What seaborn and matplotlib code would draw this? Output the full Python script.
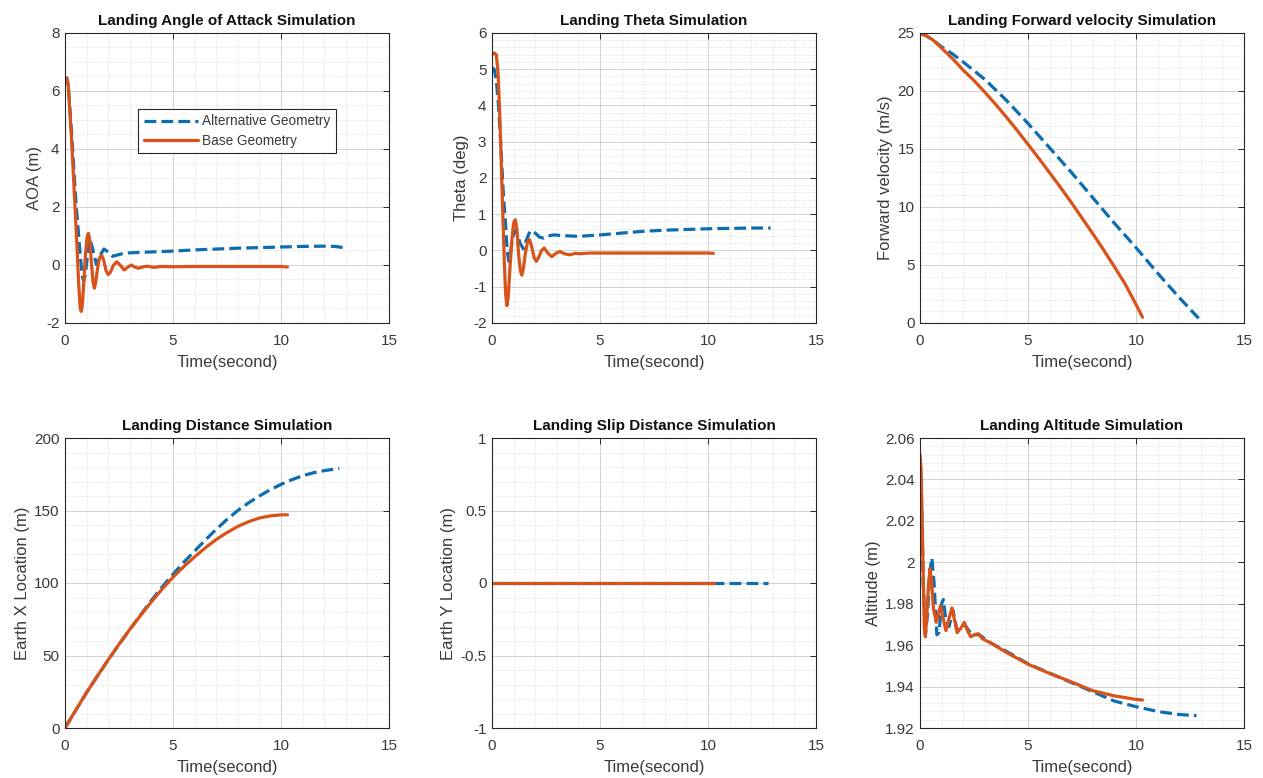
import numpy as np
import pandas as pd
import matplotlib
matplotlib.use("Agg")
import matplotlib.pyplot as plt
from matplotlib.ticker import MultipleLocator, FuncFormatter
import seaborn as sns

# ---------------- data ----------------
# Angle of attack
aoa_base_t = [0, 0.08, 0.15, 0.3, 0.45, 0.55, 0.63, 0.7, 0.75, 0.8, 0.88, 0.95, 1.02, 1.08, 1.14,
              1.22, 1.3, 1.36, 1.42, 1.52, 1.6, 1.7, 1.8, 1.9, 2.0, 2.1, 2.25, 2.4, 2.55, 2.74,
              2.9, 3.07, 3.25, 3.4, 3.6, 3.8, 4.1, 4.5, 5, 6, 7, 8, 9, 10, 10.3]
aoa_base_v = [6.3, 6.45, 6.2, 4.4, 2.2, 0.7, -0.6, -1.45, -1.6, -1.4, -0.5, 0.4, 0.95, 1.09, 0.9,
              0.1, -0.6, -0.8, -0.6, -0.05, 0.25, 0.34, 0.15, -0.2, -0.33, -0.25, 0.0, 0.11, 0.0, -0.17,
              -0.08, 0.0, -0.08, -0.11, -0.07, -0.04, -0.08, -0.05, -0.06, -0.05, -0.05, -0.05, -0.05, -0.05, -0.07]
aoa_alt_t = [0, 0.08, 0.15, 0.3, 0.45, 0.52, 0.6, 0.7, 0.8, 0.87, 0.95, 1.05, 1.15, 1.3, 1.45,
             1.6, 1.8, 2.0, 2.2, 2.6, 3.0, 4, 5, 6, 7, 8, 9, 10, 11, 12, 12.5, 12.9]
aoa_alt_v = [6.3, 6.45, 6.2, 4.6, 2.8, 2.0, 1.3, 0.4, -0.4, -0.55, -0.3, 0.4, 0.9, 0.5, 0.02,
             0.3, 0.55, 0.45, 0.3, 0.38, 0.42, 0.45, 0.48, 0.52, 0.55, 0.58, 0.6, 0.62, 0.64, 0.65, 0.64, 0.6]

# Theta
th_base_t = [0, 0.1, 0.2, 0.28, 0.35, 0.42, 0.5, 0.57, 0.63, 0.69, 0.75, 0.83, 0.92, 1.0, 1.08, 1.15,
             1.23, 1.31, 1.38, 1.45, 1.55, 1.64, 1.74, 1.84, 1.95, 2.05, 2.15, 2.3, 2.42, 2.58, 2.77,
             2.95, 3.15, 3.35, 3.6, 3.85, 4.1, 4.5, 5, 6, 7, 8, 9, 10, 10.25]
th_base_v = [5.4, 5.45, 5.4, 4.9, 3.9, 2.6, 1.0, -0.3, -1.2, -1.52, -1.3, -0.5, 0.3, 0.75, 0.85, 0.6,
             -0.1, -0.55, -0.68, -0.5, -0.05, 0.22, 0.3, 0.1, -0.2, -0.3, -0.2, 0.0, 0.07, -0.07, -0.17,
             -0.08, -0.03, -0.09, -0.12, -0.08, -0.09, -0.07, -0.07, -0.07, -0.07, -0.07, -0.07, -0.07, -0.08]
th_alt_t = [0, 0.1, 0.2, 0.3, 0.38, 0.46, 0.54, 0.62, 0.7, 0.78, 0.85, 0.95, 1.05, 1.15, 1.3, 1.45,
            1.6, 1.75, 1.85, 2.0, 2.2, 2.4, 2.6, 2.85, 3.3, 4.0, 5, 6, 7, 8, 9, 10, 11, 12, 12.9]
th_alt_v = [5.05, 5.0, 4.7, 4.0, 3.25, 2.3, 1.4, 0.8, 0.0, -0.3, -0.1, 0.35, 0.55, 0.5, 0.2, 0.05,
            0.3, 0.52, 0.55, 0.48, 0.37, 0.34, 0.4, 0.43, 0.41, 0.39, 0.43, 0.48, 0.53, 0.56, 0.58, 0.6, 0.61, 0.62, 0.62]

# Forward velocity
vel_base_t = [0, 0.3, 0.6, 1, 1.5, 2, 2.5, 3, 3.5, 4, 4.5, 5, 5.5, 6, 6.5, 7, 7.5, 8, 8.5, 9, 9.5, 10, 10.3]
vel_base_v = [25, 24.75, 24.4, 23.7, 22.8, 21.8, 20.9, 19.9, 18.85, 17.75, 16.6, 15.4, 14.2, 12.95,
              11.7, 10.4, 9.05, 7.7, 6.3, 4.85, 3.35, 1.6, 0.5]
vel_alt_t = [0, 0.3, 0.6, 1, 1.5, 2, 3, 4, 5, 6, 7, 8, 9, 10, 11, 12, 12.9]
vel_alt_v = [25, 24.75, 24.4, 23.8, 23.2, 22.5, 21.0, 19.2, 17.2, 15.1, 13.0, 10.8, 8.6, 6.5, 4.3, 2.2, 0.4]

# Distance (Earth X)
dx_base_t = [0, 0.5, 1, 1.5, 2, 2.5, 3, 3.5, 4, 4.5, 5, 5.5, 6, 6.5, 7, 7.5, 8, 8.5, 9, 9.5, 10, 10.3]
dx_base_v = [0, 12.4, 24.5, 35.9, 47, 57.8, 68, 77.7, 87, 95.8, 104, 111.3, 118, 124.3, 130, 134.8,
             139, 142.3, 144.8, 146.3, 147, 147]
dx_alt_t = [0, 1, 2, 3, 4, 4.5, 5, 5.5, 6, 6.5, 7, 7.5, 8, 8.5, 9, 9.5, 10, 10.5, 11, 11.5, 12, 12.7]
dx_alt_v = [0, 24.5, 47, 68, 88, 97.3, 106, 114.3, 122, 129.7, 137, 143.8, 150, 155.3, 160, 164.3,
            168, 171.2, 174, 176, 177.5, 179]

# Slip distance (Earth Y)
dy_base_t = [0, 10.3]
dy_base_v = [0, 0]
dy_alt_t = [0, 12.8]
dy_alt_v = [0, 0]

# Altitude
alt_base_t = [0, 0.05, 0.12, 0.2, 0.25, 0.32, 0.4, 0.46, 0.53, 0.62, 0.75, 0.85, 0.95, 1.05, 1.2,
              1.32, 1.48, 1.6, 1.72, 1.88, 2.05, 2.2, 2.35, 2.5, 2.7, 2.9, 3.23, 3.6, 4, 5, 6, 7, 8, 9, 10, 10.3]
alt_base_v = [2.052, 2.045, 2.01, 1.968, 1.964, 1.975, 1.99, 1.997, 1.992, 1.978, 1.971, 1.975, 1.979, 1.974, 1.967,
              1.972, 1.978, 1.972, 1.966, 1.968, 1.971, 1.967, 1.964, 1.965, 1.9655, 1.963, 1.9613, 1.959, 1.9565,
              1.9508, 1.9463, 1.9423, 1.938, 1.9355, 1.9338, 1.9335]
alt_alt_t = [0, 0.05, 0.15, 0.25, 0.35, 0.45, 0.55, 0.65, 0.78, 0.88, 1.0, 1.08, 1.2, 1.35, 1.52,
             1.72, 2.05, 2.4, 2.75, 3.2, 4, 5, 6, 7, 8, 9, 10, 11, 12, 12.8]
alt_alt_v = [2.05, 2.04, 1.99, 1.965, 1.975, 1.995, 2.002, 1.99, 1.965, 1.966, 1.98, 1.982, 1.972, 1.969, 1.977,
             1.967, 1.97, 1.965, 1.965, 1.9615, 1.957, 1.951, 1.9465, 1.942, 1.9375, 1.933, 1.9303, 1.928, 1.9265, 1.926]

legend_labels = ["Alternative Geometry", "Base Geometry"]

panels = [
    ("Landing Angle of Attack Simulation", "AOA (m)", (aoa_alt_t, aoa_alt_v), (aoa_base_t, aoa_base_v), (-2, 8), 2, 0.5),
    ("Landing Theta Simulation", "Theta (deg)", (th_alt_t, th_alt_v), (th_base_t, th_base_v), (-2, 6), 1, 0.2),
    ("Landing Forward velocity Simulation", "Forward velocity (m/s)", (vel_alt_t, vel_alt_v), (vel_base_t, vel_base_v), (0, 25), 5, 1),
    ("Landing Distance Simulation", "Earth X Location (m)", (dx_alt_t, dx_alt_v), (dx_base_t, dx_base_v), (0, 200), 50, 10),
    ("Landing Slip Distance Simulation", "Earth Y Location (m)", (dy_alt_t, dy_alt_v), (dy_base_t, dy_base_v), (-1, 1), 0.5, 0.1),
    ("Landing Altitude Simulation", "Altitude (m)", (alt_alt_t, alt_alt_v), (alt_base_t, alt_base_v), (1.92, 2.06), 0.02, 0.004),
]

# ---------------- style ----------------
sns.set_theme(style="white")
plt.rcParams['font.family'] = ['Liberation Sans', 'DejaVu Sans']

BLUE = '#0C6DB0'
ORANGE = '#D95319'
TXT = '#3a3a3a'

fig = plt.figure(figsize=(12.63, 7.78), dpi=100)
W, H = 1263, 778
lefts = [65, 492, 920]
tops = [33, 438]
aw, ah = 324, 290

for i, (title, ylabel, alt, base, ylim, ymaj, ymin) in enumerate(panels):
    r, c = divmod(i, 3)
    ax = fig.add_axes([lefts[c] / W, 1 - (tops[r] + ah) / H, aw / W, ah / H])
    sns.lineplot(x=alt[0], y=alt[1], ax=ax, color=BLUE, linewidth=2.3, linestyle='--',
                 estimator=None, sort=False, label=legend_labels[0])
    sns.lineplot(x=base[0], y=base[1], ax=ax, color=ORANGE, linewidth=2.3,
                 estimator=None, sort=False, label=legend_labels[1])
    ax.set_xlim(0, 15)
    ax.set_ylim(*ylim)
    ax.xaxis.set_major_locator(MultipleLocator(5))
    ax.xaxis.set_minor_locator(MultipleLocator(1))
    ax.yaxis.set_major_locator(MultipleLocator(ymaj))
    ax.yaxis.set_minor_locator(MultipleLocator(ymin))
    ax.grid(which='major', color='#d2d2d2', linewidth=0.7, linestyle='-')
    ax.grid(which='minor', color='#d6d6d6', linewidth=0.6, linestyle=':')
    ax.set_axisbelow(True)
    ax.tick_params(which='major', direction='in', length=4, width=0.7, top=True, right=True,
                   colors='#262626', labelcolor=TXT, labelsize=11)
    ax.tick_params(axis='x', which='major', pad=8)
    ax.tick_params(axis='y', which='major', pad=4)
    ax.tick_params(which='minor', length=0)
    if i == 5:
        ax.yaxis.set_major_formatter(FuncFormatter(lambda v, p: ('%.2f' % v).rstrip('0').rstrip('.')))
    else:
        ax.yaxis.set_major_formatter(FuncFormatter(lambda v, p: ('%g' % v)))
    ax.set_title(title, fontsize=11, fontweight='bold', color='#111111', pad=6)
    ax.set_xlabel("Time(second)", fontsize=12, color=TXT, labelpad=5)
    ax.set_ylabel(ylabel, fontsize=12, color=TXT, labelpad=3)
    for sp in ax.spines.values():
        sp.set_visible(True)
        sp.set_color('#262626')
        sp.set_linewidth(0.8)
    if i == 0:
        leg = ax.legend(loc='upper left', bbox_to_anchor=(0.226, 0.738), fontsize=9.8,
                        frameon=True, fancybox=False, framealpha=1, edgecolor='#262626',
                        handlelength=4.0, handletextpad=0.3, borderpad=0.4, labelspacing=0.4,
                        borderaxespad=0)
        leg.get_frame().set_linewidth(0.8)
        for t in leg.get_texts():
            t.set_color(TXT)
    else:
        lg = ax.get_legend()
        if lg is not None:
            lg.remove()

fig.savefig("out.png", dpi=100, facecolor='white')
